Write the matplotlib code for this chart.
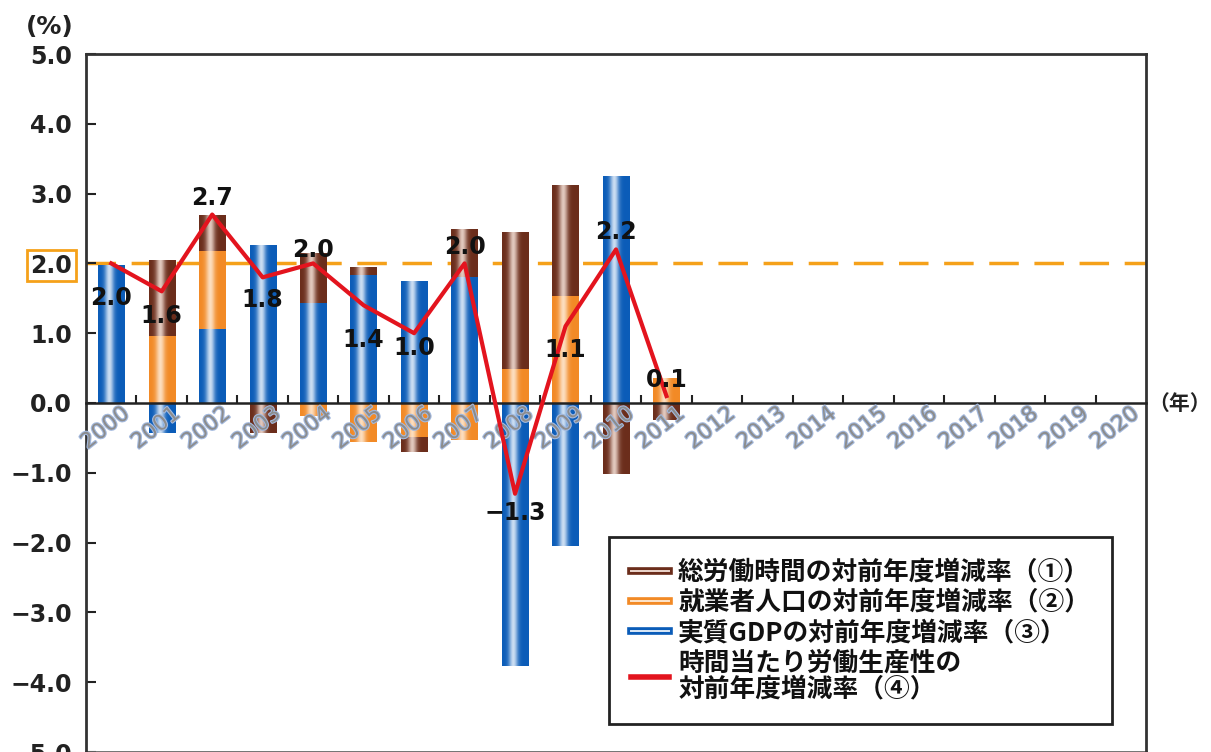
import numpy as np
import matplotlib
matplotlib.use("Agg")
import matplotlib.pyplot as plt
import matplotlib.patheffects as pe
import matplotlib.transforms as mtransforms
from matplotlib.lines import Line2D
from matplotlib.colors import to_rgb

# 年度
years = [str(y) for y in range(2000, 2021)]
# 実質GDP・就業者人口・総労働時間の寄与 (%), 2000-2011
gdp = [1.97, -0.43, 1.06, 2.26, 1.43, 1.83, 1.75, 1.81, -3.77, -2.05, 3.25, 0.0]
employed = [0.0, 0.96, 1.12, 0.0, -0.19, -0.56, -0.49, -0.53, 0.49, 1.53, 0.0, 0.36]
hours = [0.0, 1.09, 0.51, -0.43, 0.72, 0.12, -0.21, 0.68, 1.96, 1.59, -1.02, -0.24]
# 時間当たり労働生産性の対前年度増減率 (%)
productivity = [2.0, 1.6, 2.7, 1.8, 2.0, 1.4, 1.0, 2.0, -1.3, 1.1, 2.2, 0.1]
target = 2.0

legend_labels = [
    "総労働時間の対前年度増減率（①）",
    "就業者人口の対前年度増減率（②）",
    "実質GDPの対前年度増減率（③）",
    "時間当たり労働生産性の\n対前年度増減率（④）",
]

BLUE = ("#0b5cb8", "#dce9f7")
ORANGE = ("#f28a26", "#fde5cc")
BROWN = ("#6b2d1b", "#ecd6cc")
RED = "#e3141e"
DASH = "#f5a11a"

plt.rcParams['font.family'] = ['DejaVu Sans', 'Noto Sans CJK JP']

fig = plt.figure(figsize=(12.11, 7.52), dpi=100)
ax = fig.add_axes([86 / 1211, 0.0, 1060 / 1211, 698 / 752])


def shade(patch, dark, light):
    # cylinder-like highlight across the bar
    if patch.get_height() == 0:
        return
    x0, y0 = patch.get_x(), patch.get_y()
    w, h = patch.get_width(), patch.get_height()
    t = np.linspace(0, 1, 48)
    k = 0.92 * np.exp(-((t - 0.42) / 0.17) ** 2)
    img = (1 - k)[:, None] * np.array(to_rgb(dark)) + k[:, None] * np.array(to_rgb(light))
    im = ax.imshow(img[None, :, :], extent=[x0, x0 + w, y0, y0 + h],
                   aspect='auto', interpolation='bilinear', zorder=2.1)
    im.set_clip_path(patch)


x = np.arange(len(productivity))
pos = np.zeros(len(x))
neg = np.zeros(len(x))
for vals, (dark, light) in [(gdp, BLUE), (employed, ORANGE), (hours, BROWN)]:
    v = np.array(vals)
    bottom = np.where(v >= 0, pos, neg)
    bars = ax.bar(x, v, 0.52, bottom=bottom, color=dark, linewidth=0, zorder=2)
    for p in bars:
        shade(p, dark, light)
    pos += np.clip(v, 0, None)
    neg += np.clip(v, None, 0)

ax.axhline(target, color=DASH, lw=2.5, dashes=(8.5, 4.5), zorder=1.5)
ax.plot(x, productivity, color=RED, lw=3, zorder=4)

label_dy = [-35, -25, 17, -23, 13, -35, -15, 16, -19, -24, 17, 16]
for xi, v, dy in zip(x, productivity, label_dy):
    ax.annotate(f"{v:.1f}".replace("-", "\u2212"), (xi, v), xytext=(0, dy),
                textcoords='offset pixels', ha='center', va='center',
                fontsize=17, fontweight='bold', color='#111', zorder=5,
                family='DejaVu Sans')

ax.set_xlim(-0.5, len(years) - 0.5)
ax.set_ylim(-5, 5)

# x axis sits on zero with small ticks between years
ax.spines['bottom'].set_position(('data', 0))
ax.set_xticks(np.arange(0.5, len(years) - 1, 1))
ax.tick_params(axis='x', direction='in', length=6, width=1.5,
               color='#222', labelbottom=False)
for i, yr in enumerate(years):
    ax.annotate(yr, (i, 0), xytext=(-6, -25), textcoords='offset pixels',
                ha='center', va='center', rotation=38, fontsize=15.5,
                color='#8c8c8c', zorder=3,
                path_effects=[pe.withStroke(linewidth=1.6, foreground='#a3b9de')])
ax.plot([0, 1], [0, 0], transform=ax.transAxes, color='#666', lw=2, clip_on=False)

ax.set_yticks(range(-5, 6))
ax.set_yticklabels([f"{v:.1f}".replace("-", "\u2212") for v in range(-5, 6)])
ax.tick_params(axis='y', direction='in', length=7, width=1.5, pad=10,
               labelsize=17, color='#222', labelcolor='#222')
for lab in ax.get_yticklabels():
    lab.set_fontweight('bold')
ax.get_yticklabels()[7].set_bbox(dict(boxstyle='square,pad=0.15', fc='none', ec=DASH, lw=2))

for side in ['left', 'top', 'right']:
    ax.spines[side].set_color('#333')
    ax.spines[side].set_linewidth(2)
ax.spines['bottom'].set_color('#222')
ax.spines['bottom'].set_linewidth(1.8)

fig.text(50 / 1211, 1 - 27 / 752, "(%)", ha='center', va='center',
         fontsize=18, fontweight='bold', color='#222')
ax.text(1.002, 0, "（年）", transform=mtransforms.blended_transform_factory(ax.transAxes, ax.transData),
        ha='left', va='center', fontsize=15, fontweight='bold', color='#222',
        family='Noto Sans CJK JP')


def striped(dark, light):
    return Line2D([], [], color=light, lw=1.4,
                  path_effects=[pe.Stroke(linewidth=5.5, foreground=dark), pe.Normal()])


handles = [striped(*BROWN), striped(*ORANGE), striped(*BLUE), Line2D([], [], color=RED, lw=4)]
leg = ax.legend(handles, legend_labels, loc='upper right',
                bbox_to_anchor=((1112 - 86) / 1060, (752 - 537) / 698), borderaxespad=0,
                prop=dict(family='Noto Sans CJK JP', weight='bold', size=18.5),
                frameon=True, fancybox=False, edgecolor='#222', framealpha=1,
                handlelength=1.5, handletextpad=0.35, labelspacing=0.12, borderpad=0.85)
leg.get_frame().set_linewidth(2)
leg.set_zorder(6)
for t in leg.get_texts():
    t.set_linespacing(0.95)
    t.set_color('#111')

fig.savefig("out.png", dpi=100)
